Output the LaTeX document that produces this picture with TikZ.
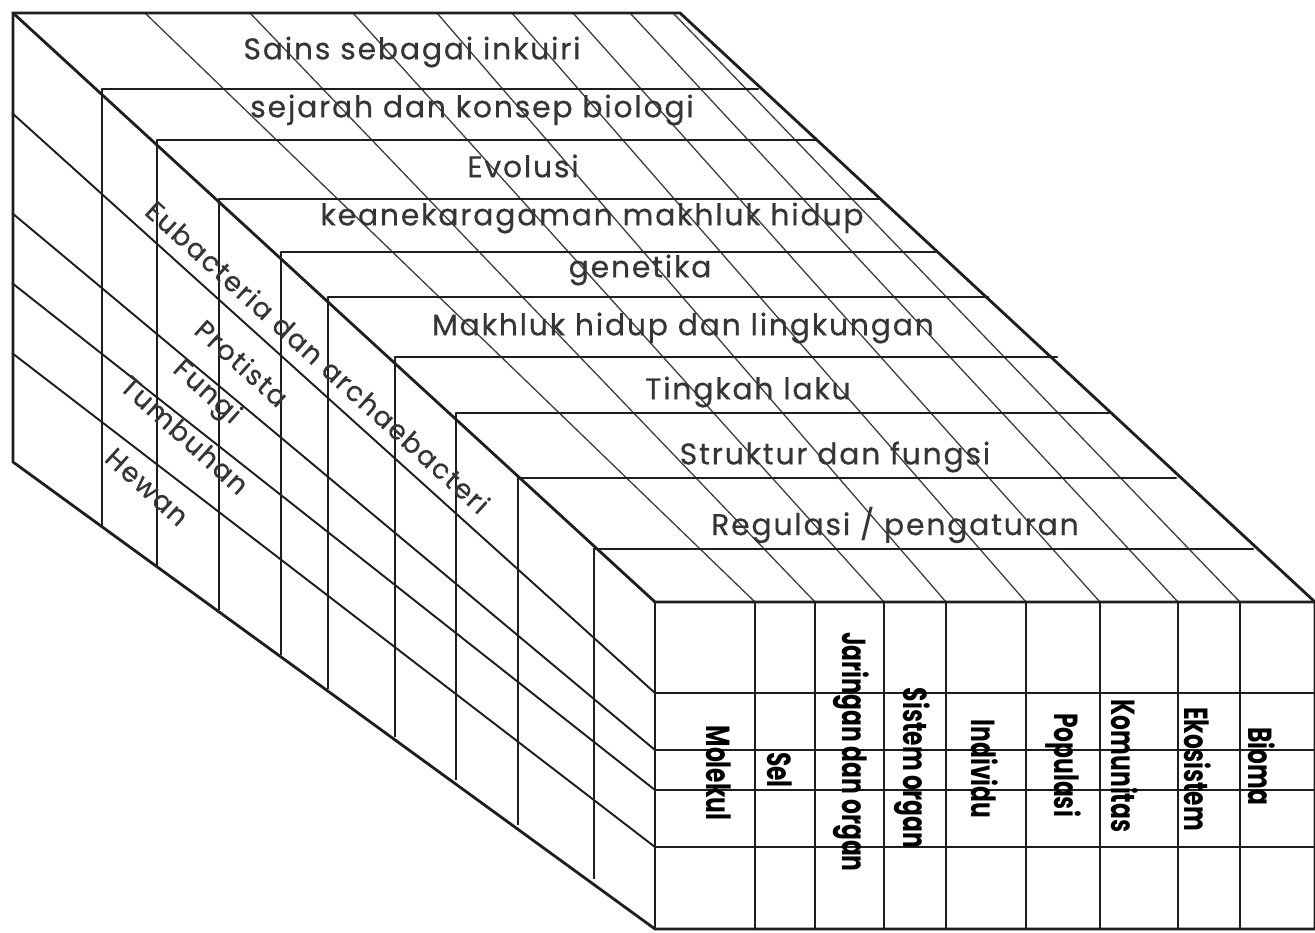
\documentclass[tikz,border=0pt]{standalone}
\usepackage{fontspec}
\usetikzlibrary{calc}
\newfontfamily\gothic[LetterSpace=6,FakeBold=0.5]{Poppins}
\newfontfamily\gothicnarrow[FakeStretch=0.7]{Poppins}
\definecolor{ink}{HTML}{1E1E1E}
\tikzset{
  rim/.style={draw=ink,line width=1.6pt,line cap=round},
  seam/.style={draw=ink,line width=1.1pt},
  hair/.style={draw=ink!85,line width=0.75pt},
  topic/.style={font=\gothic\fontsize{17}{20}\selectfont,text=ink!90,inner sep=0pt},
  taxon/.style={topic,font=\gothic\fontsize{15.5}{18}\selectfont,rotate=-42},
  lvl/.style={font=\gothicnarrow\bfseries\fontsize{19}{22}\selectfont,text=black,rotate=-90,inner sep=0pt},
}

\begin{document}
\begin{tikzpicture}[x=0.02cm,y=-0.02cm]
  \fill[white] (0,0) rectangle (1315,933);
  \useasboundingbox (0,0) rectangle (1315,933);
  \foreach \i/\cx/\cy/\rx/\by in {0/13/13/680/462,1/102/89/758/527,2/157/140/817/566,
      3/219/199/879/610,4/281/252/936/655,5/328/297/988/689,6/395/357/1057/737,
      7/456/413/1109/780,8/518/478/1176/825,9/594/549/1253/879,10/655/602/1315/929}{
    \coordinate (c\i) at (\cx,\cy);
    \coordinate (r\i) at (\rx,\cy);
    \coordinate (b\i) at (\cx,\by);
  }
  % top face
  \foreach \bx/\fx in {145/755,250/815,353/884,437/946,512/1026,573/1100,630/1178,673/1240}
    \draw[hair] (\bx,13) -- (\fx,602);
  \foreach \i in {1,...,9}
    \draw[rim] (c\i) -- (r\i);
  % left face
  \foreach \i in {1,...,9}
    \draw[seam] (c\i) -- (b\i);
  \foreach \ly/\ry in {113/693,213/750,283/790,353/847}
    \draw[seam] (12,\ly) -- (655,\ry);
  % front face
  \foreach \x in {755,815,884,946,1026,1100,1178,1240}
    \draw[rim] (\x,602) -- (\x,929);
  \foreach \y in {693,750,790,847}
    \draw[seam] (655,\y) -- (1315,\y);
  \draw[rim] (c0) -- (r0) -- (r10) -- (1315,929) -- (b10) -- (b0) -- cycle;
  \draw[rim] (c0) -- (c10) -- (r10);
  \draw[rim] (c10) -- (b10);

  \node[topic] (sains) at (412,52) {Sains sebagai inkuiri};
  \node[topic] (sejarah) at (472,110) {sejarah dan konsep biologi};
  \node[topic] (evolusi) at (523,166) {Evolusi};
  \node[topic] (ragam) at (592,218) {keanekaragaman makhluk hidup};
  \node[topic] (genetika) at (640,270) {genetika};
  \node[topic] (lingkungan) at (683,328) {Makhluk hidup dan lingkungan};
  \node[topic] (laku) at (748,392) {Tingkah laku};
  \node[topic] (struktur) at (835,457) {Struktur dan fungsi};
  \node[topic] (regulasi) at (895,525) {Regulasi / pengaturan};

  \node[taxon] (eubac) at (318,357) {Eubacteria dan archaebacteri};
  \node[taxon] (protista) at (242,363) {Protista};
  \node[taxon] (fungi) at (206,393) {Fungi};
  \node[taxon] (tumbuhan) at (185,435) {Tumbuhan};
  \node[taxon] (hewan) at (147,487) {Hewan};

  \node[lvl] (molekul) at (719,773) {Molekul};
  \node[lvl] (sel) at (780,770) {Sel};
  \node[lvl] (jaringan) at (851,752) {Jaringan dan organ};
  \node[lvl] (sistem) at (912,768) {Sistem organ};
  \node[lvl] (individu) at (985,769) {Individu};
  \node[lvl] (populasi) at (1063,765) {Populasi};
  \node[lvl] (komunitas) at (1125,766) {Komunitas};
  \node[lvl] (ekosistem) at (1198,769) {Ekosistem};
  \node[lvl] (bioma) at (1262,766) {Bioma};
\end{tikzpicture}
\end{document}
